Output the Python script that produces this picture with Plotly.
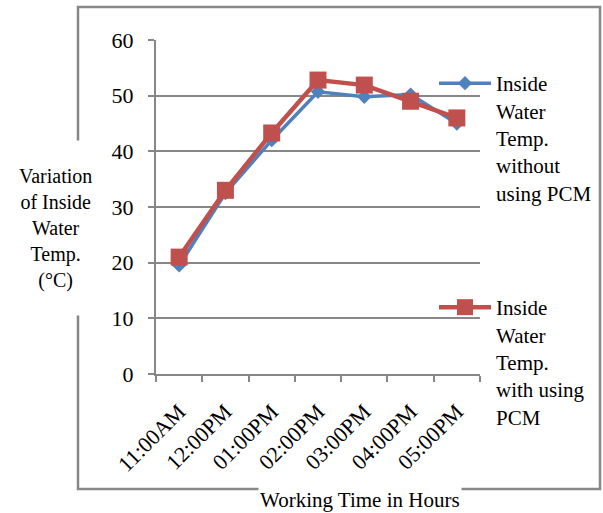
import plotly.graph_objects as go

times = ["11:00AM", "12:00PM", "01:00PM", "02:00PM", "03:00PM", "04:00PM", "05:00PM"]
without_pcm = [19.5, 32.5, 42.0, 50.7, 49.8, 50.2, 45.0]
with_pcm = [21.0, 33.0, 43.3, 52.8, 51.9, 49.0, 46.0]
y_ticks = [0, 10, 20, 30, 40, 50, 60]

name_without = "Inside<br>Water<br>Temp.<br>without<br>using PCM"
name_with = "Inside<br>Water<br>Temp.<br>with using<br>PCM"

BLUE = "#4F81BD"
RED = "#C0504D"
GRAY = "#878787"
FONT = "Liberation Serif, Times New Roman, serif"

W, H = 603, 513
L, R, T, B = 156, 480, 40, 374

fig = go.Figure()
fig.add_trace(go.Scatter(
    x=times, y=without_pcm, name=name_without, mode="lines+markers",
    line=dict(color=BLUE, width=3.5),
    marker=dict(symbol="diamond", size=11, color=BLUE),
    legend="legend", showlegend=True,
))
fig.add_trace(go.Scatter(
    x=times, y=with_pcm, name=name_with, mode="lines+markers",
    line=dict(color=RED, width=4.5),
    marker=dict(symbol="square", size=17, color=RED),
    legend="legend2", showlegend=True,
))

pw = R - L
ph = B - T

def px_x(x):
    return (x - L) / pw

def px_y(y):
    return (B - y) / ph

fig.update_layout(
    width=W, height=H, showlegend=True,
    margin=dict(l=L, r=W - R, t=T, b=H - B, autoexpand=False),
    paper_bgcolor="white", plot_bgcolor="white",
    font=dict(family=FONT, size=21, color="black"),
    legend=dict(
        x=px_x(434), y=px_y(63), xanchor="left", yanchor="top",
        bgcolor="rgba(0,0,0,0)", valign="top", itemwidth=52,
        font=dict(family=FONT, size=21, color="black"),
        tracegroupgap=0,
    ),
    legend2=dict(
        x=px_x(434), y=px_y(287), xanchor="left", yanchor="top",
        bgcolor="rgba(0,0,0,0)", valign="top", itemwidth=52,
        font=dict(family=FONT, size=21, color="black"),
    ),
    xaxis=dict(
        type="category", categoryorder="array", categoryarray=times,
        range=[-0.5, len(times) - 0.5],
        showgrid=False, showline=True, linecolor=GRAY, linewidth=2,
        ticks="outside", tickson="boundaries", ticklen=6, tickcolor=GRAY, tickwidth=2,
        tickangle=-45, ticklabelstandoff=14,
        tickfont=dict(family=FONT, size=22, color="black"),
        zeroline=False,
    ),
    yaxis=dict(
        range=[0, 60], tickvals=y_ticks, ticktext=[str(v) for v in y_ticks],
        showgrid=True, gridcolor=GRAY, gridwidth=2,
        showline=True, linecolor=GRAY, linewidth=2,
        ticks="outside", ticklen=6, tickcolor=GRAY, tickwidth=2,
        ticklabelstandoff=10,
        tickfont=dict(family=FONT, size=22, color="black"),
        zeroline=False,
    ),
    shapes=[dict(
        type="rect", xref="paper", yref="paper",
        x0=px_x(78), x1=px_x(600), y0=px_y(489), y1=px_y(7),
        line=dict(color=GRAY, width=2.5), fillcolor="rgba(0,0,0,0)", layer="below",
    )],
    annotations=[
        dict(
            text="Variation<br>of Inside<br>Water<br>Temp.<br>(°C)",
            xref="paper", yref="paper", x=px_x(55), y=px_y(228),
            xanchor="center", yanchor="middle", showarrow=False,
            align="center", bgcolor="white", height=172, valign="middle",
            font=dict(family=FONT, size=20, color="black"),
        ),
        dict(
            text="Working Time in Hours",
            xref="paper", yref="paper", x=px_x(360), y=px_y(500),
            xanchor="center", yanchor="middle", showarrow=False,
            bgcolor="white",
            font=dict(family=FONT, size=21, color="black"),
        ),
    ],
)

fig.write_html(
    "out.html",
    config={"displayModeBar": False},
    post_script="document.body.style.margin='0';document.body.style.padding='0';",
)
